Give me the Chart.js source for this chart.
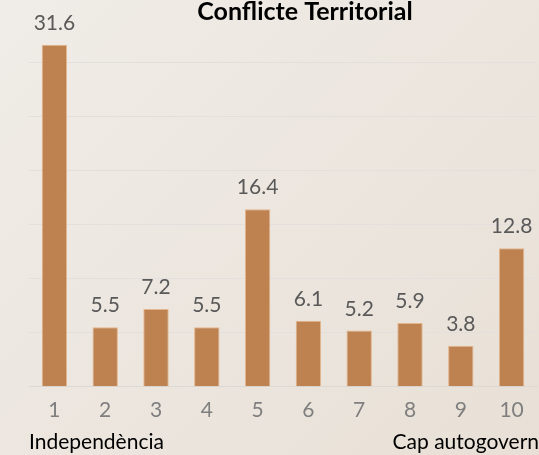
<!DOCTYPE html>
<html>
<head>
<meta charset="utf-8">
<script src="https://cdn.jsdelivr.net/npm/chart.js@4/dist/chart.umd.min.js"></script>
<style>
html,body{margin:0;padding:0;}
body{width:539px;height:455px;overflow:hidden;background:linear-gradient(135deg,#F0ECE7 0%,#ECE6DF 50%,#E8E0D6 100%);}
#wrap{position:relative;width:539px;height:455px;}
</style>
</head>
<body>
<div id="wrap"><canvas id="c" width="539" height="455"></canvas></div>
<script>
const categories = ["1","2","3","4","5","6","7","8","9","10"];
const values = [31.6, 5.5, 7.2, 5.5, 16.4, 6.1, 5.2, 5.9, 3.8, 12.8];
const titleText = "Conflicte Territorial";
const leftLabel = "Independència";
const rightLabel = "Cap autogovern";

const FONT = "Lato, 'Open Sans', sans-serif";

const overlay = {
  id: 'overlay',
  afterDatasetsDraw(chart) {
    const ctx = chart.ctx;
    const meta = chart.getDatasetMeta(0);
    ctx.save();
    ctx.font = "21px " + FONT;
    ctx.fillStyle = "#595959";
    ctx.textAlign = "center";
    ctx.textBaseline = "alphabetic";
    meta.data.forEach((bar, i) => {
      ctx.fillText(values[i].toFixed(1), bar.x, bar.y - 15);
    });
    ctx.restore();
  },
  afterDraw(chart) {
    const ctx = chart.ctx;
    const area = chart.chartArea;
    ctx.save();
    ctx.fillStyle = "#000000";
    ctx.font = "bold 25px " + FONT;
    ctx.textAlign = "center";
    ctx.textBaseline = "alphabetic";
    ctx.fillText(titleText, 305, 20);
    ctx.font = "21px " + FONT;
    ctx.textAlign = "left";
    ctx.fillText(leftLabel, area.left, 449);
    ctx.textAlign = "right";
    ctx.fillText(rightLabel, 539, 449);
    ctx.restore();
  }
};

new Chart(document.getElementById('c'), {
  type: 'bar',
  data: {
    labels: categories,
    datasets: [{
      data: values,
      backgroundColor: '#BE8150',
      borderColor: '#E3B58C',
      borderWidth: 1,
      barPercentage: 0.5,
      categoryPercentage: 1.0
    }]
  },
  options: {
    responsive: false,
    animation: false,
    layout: { padding: { left: 29, right: 2, top: 8, bottom: 29 } },
    plugins: { legend: { display: false }, tooltip: { enabled: false }, title: { display: false } },
    scales: {
      x: {
        grid: { display: false },
        border: { display: true, color: '#DCD8D3', width: 1 },
        ticks: { color: '#7F7F7F', font: { family: FONT, size: 21 }, padding: 3 }
      },
      y: {
        display: true,
        min: 0, max: 35,
        ticks: { display: false, stepSize: 5 },
        border: { display: false },
        grid: {
          drawTicks: false,
          color: (c) => (c.tick && c.tick.value === 35) ? 'rgba(0,0,0,0)' : '#E2DFDC',
          lineWidth: 1
        }
      }
    }
  },
  plugins: [overlay]
});
</script>
</body>
</html>
